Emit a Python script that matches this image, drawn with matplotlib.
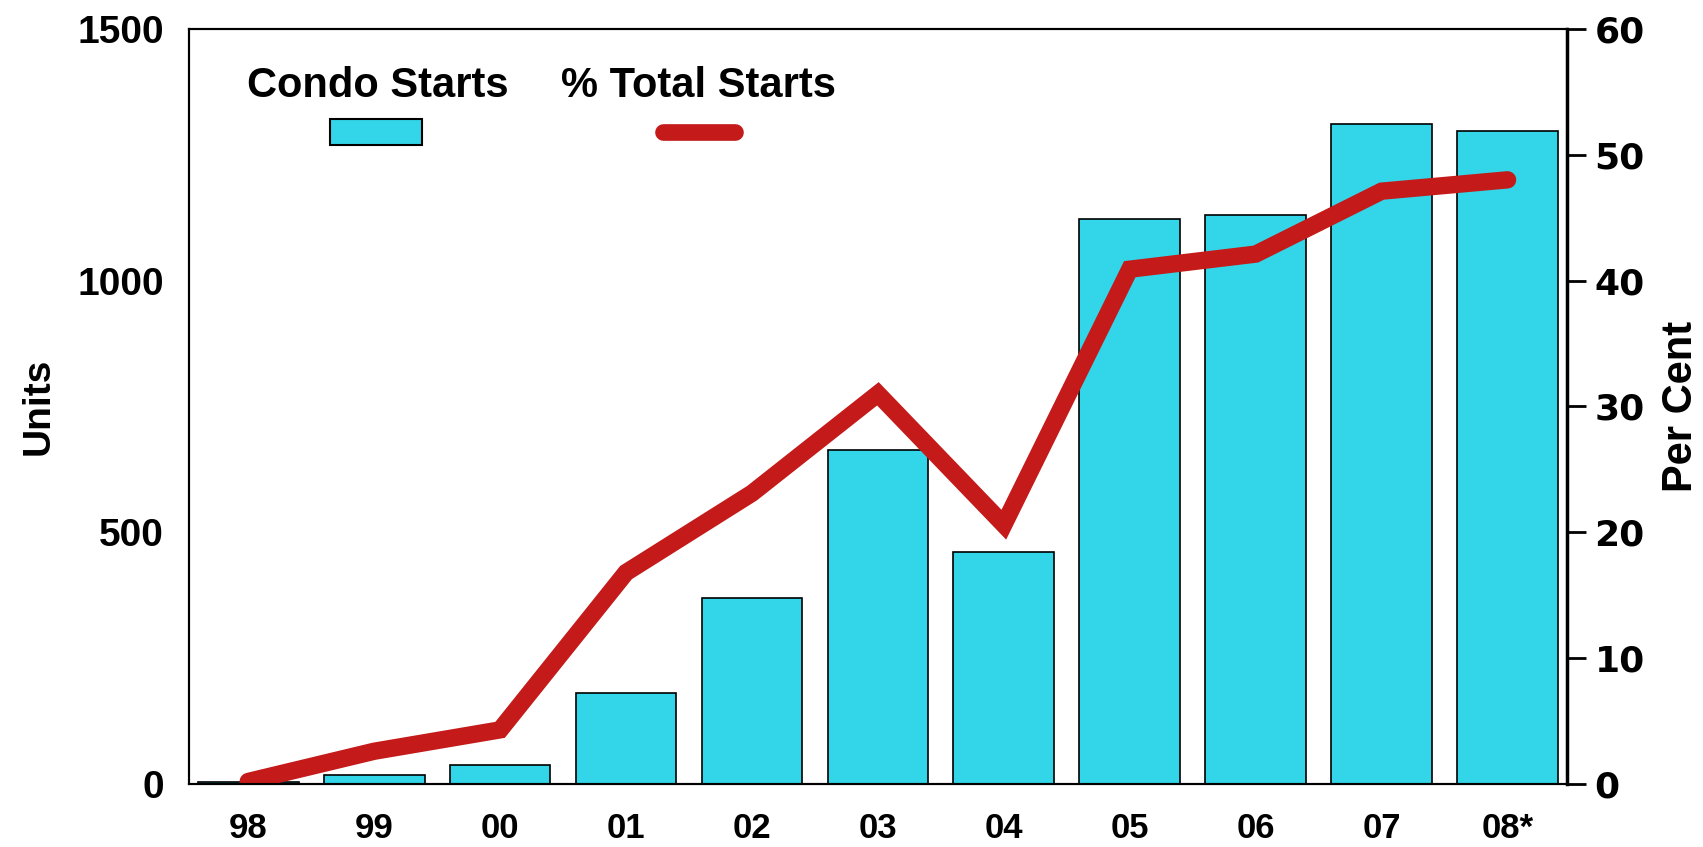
import matplotlib
matplotlib.use("Agg")
import matplotlib.pyplot as plt
from matplotlib.patches import Rectangle
from matplotlib.lines import Line2D

CIANO = "#33d6e8"
VERMELHO = "#c41a1a"
NARROW = ["Liberation Sans Narrow", "Liberation Sans", "DejaVu Sans"]

anos = ["98", "99", "00", "01", "02", "03", "04", "05", "06", "07", "08*"]
condo_starts = [3, 18, 38, 181, 369, 663, 460, 1122, 1131, 1310, 1297]
pct_total = [0.2, 2.6, 4.3, 16.8, 23.1, 31.0, 20.6, 40.9, 42.1, 47.1, 48.0]

fig = plt.figure(figsize=(17.03, 8.47), dpi=100)
ax = fig.add_axes([0.111, 0.0744, 0.809, 0.8916])
ax2 = ax.twinx()

x = range(len(anos))
ax.bar(x, condo_starts, width=0.8, color=CIANO, edgecolor="black", linewidth=1.2)
ax.set_xlim(-0.47, len(anos) - 0.53)
ax.set_ylim(0, 1500)
ax.set_yticks([0, 500, 1000, 1500])
ax.set_xticks(list(x))
ax.set_xticklabels(anos)
ax.tick_params(axis="y", length=0, pad=18)
ax.tick_params(axis="x", length=0, pad=20)
for lab in ax.get_yticklabels():
    lab.set_family(NARROW)
    lab.set_fontsize(28)
    lab.set_fontweight("bold")
for lab in ax.get_xticklabels():
    lab.set_family(NARROW)
    lab.set_fontsize(25)
    lab.set_fontweight("bold")
ax.set_ylabel("Units", family=NARROW, fontsize=28, fontweight="bold", labelpad=15)

ax2.plot(x, pct_total, color=VERMELHO, linewidth=12.5, solid_capstyle="round",
         solid_joinstyle="miter")
ax2.set_ylim(0, 60)
ax2.set_yticks(range(0, 61, 10))
ax2.tick_params(axis="y", length=14, width=2, pad=6, labelsize=26)
for lab in ax2.get_yticklabels():
    lab.set_fontweight("bold")
ax2.set_ylabel("Per Cent", family=NARROW, fontsize=30, fontweight="bold", labelpad=12)
ax2.spines["right"].set_linewidth(2.5)
for s in ("top", "left", "bottom"):
    ax.spines[s].set_linewidth(1.5)
    ax2.spines[s].set_linewidth(1.5)

# legenda com o texto acima dos simbolos
ax.text(0.137, 0.924, "Condo Starts", transform=ax.transAxes, ha="center", va="center",
        family=NARROW, fontsize=30, fontweight="bold")
ax.text(0.370, 0.924, "% Total Starts", transform=ax.transAxes, ha="center", va="center",
        family=NARROW, fontsize=30, fontweight="bold")
ax.add_patch(Rectangle((0.102, 0.846), 0.067, 0.034, transform=ax.transAxes,
                       facecolor=CIANO, edgecolor="black", linewidth=1.5, zorder=5))
ax.add_line(Line2D([0.344, 0.396], [0.863, 0.863], transform=ax.transAxes,
                   color=VERMELHO, linewidth=12, solid_capstyle="round", zorder=5))

fig.savefig("out.png", dpi=100)
